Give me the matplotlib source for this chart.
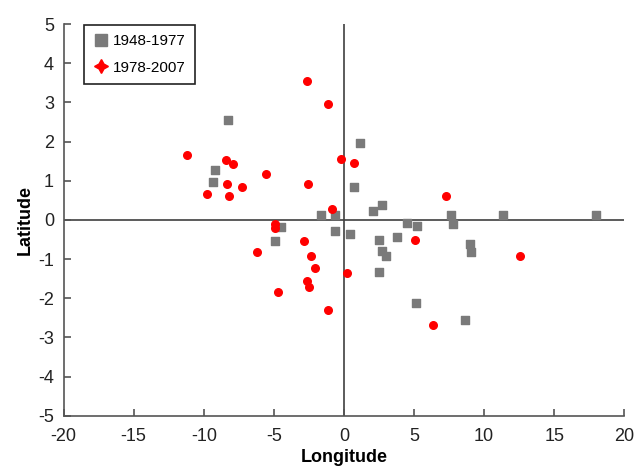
import matplotlib
matplotlib.use("Agg")
import matplotlib.pyplot as plt
from matplotlib.lines import Line2D

plt.rcParams['font.family'] = ['Liberation Sans', 'DejaVu Sans']
plt.rcParams['axes.unicode_minus'] = False

# 1948-1977 (gray squares)
lon_early = [-8.26, -9.2, -9.37, -1.62, -0.62, -4.5, -4.95, -0.62, 0.4, 1.17,
             0.74, 2.09, 2.69, 7.61, 7.78, 4.47, 5.21, 2.52, 3.8, 2.73,
             3.02, 2.47, 5.14, 8.63, 8.99, 9.06, 11.35, 17.96]
lat_early = [2.55, 1.27, 0.97, 0.12, 0.12, -0.19, -0.55, -0.29, -0.37, 1.96,
             0.85, 0.23, 0.38, 0.13, -0.1, -0.09, -0.15, -0.51, -0.45, -0.8,
             -0.92, -1.34, -2.13, -2.55, -0.62, -0.83, 0.12, 0.12]

# 1978-2007 (red circles)
lon_late = [-2.62, -1.16, -0.24, -11.22, -8.4, -7.9, -5.59, -8.37, -7.3, -2.57,
            -9.8, -8.23, -0.88, 0.74, 7.28, -4.9, -4.95, -2.83, -6.21, -2.35,
            -2.09, -2.64, -2.52, -4.73, -1.14, 0.25, 5.07, 6.33, 12.58]
lat_late = [3.54, 2.97, 1.56, 1.65, 1.53, 1.43, 1.18, 0.91, 0.85, 0.91,
            0.65, 0.61, 0.28, 1.44, 0.61, -0.11, -0.21, -0.55, -0.83, -0.93,
            -1.24, -1.56, -1.71, -1.83, -2.29, -1.35, -0.51, -2.69, -0.93]

fig = plt.figure(figsize=(6.36, 4.71), dpi=100)
ax = fig.add_axes([0.1, 0.1174, 0.8816, 0.8316])

ax.axhline(0, color='#404040', lw=1.2, zorder=1)
ax.axvline(0, color='#404040', lw=1.2, zorder=1)

ax.scatter(lon_early, lat_early, marker='s', s=36, color='#7a7a7a', zorder=3)
ax.scatter(lon_late, lat_late, marker='o', s=30, color='#ff0000', zorder=4)

ax.set_xlim(-20, 20)
ax.set_ylim(-5, 5)
ax.set_xticks(range(-20, 21, 5))
ax.set_yticks(range(-5, 6))
for s in ['top', 'right']:
    ax.spines[s].set_visible(False)
for s in ['left', 'bottom']:
    ax.spines[s].set_color('#555555')
    ax.spines[s].set_linewidth(1.2)
ax.tick_params(direction='in', length=5, width=1.2, color='#555555',
               labelsize=13, labelcolor='#222222')
ax.tick_params(axis='x', pad=9)
ax.tick_params(axis='y', pad=7)

ax.set_xlabel('Longitude', fontsize=13, fontweight='bold', labelpad=3)
ax.set_ylabel('Latitude', fontsize=13, fontweight='bold', labelpad=3)

handles = [
    Line2D([], [], marker='s', color='#7a7a7a', ls='none', markersize=8),
    Line2D([], [], marker=(4, 1, 0), color='#ff0000', ls='none', markersize=10),
]
leg = ax.legend(handles, ['1948-1977', '1978-2007'], loc='upper left',
                bbox_to_anchor=(0.036, 0.997), borderaxespad=0, fontsize=11,
                fancybox=False, framealpha=1, edgecolor='#222222',
                handletextpad=0.3, handlelength=1.0, borderpad=0.6,
                labelspacing=0.8)
leg.get_frame().set_linewidth(1.2)

fig.savefig('out.png', dpi=100)
